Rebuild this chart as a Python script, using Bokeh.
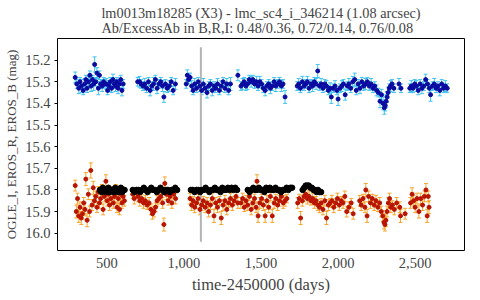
from bokeh.plotting import figure
from bokeh.models import ColumnDataSource, Whisker, TeeHead, FixedTicker, NumeralTickFormatter
from bokeh.embed import file_html
from bokeh.resources import INLINE

# ---------------- data ----------------
title_line1 = "lm0013m18285 (X3) - lmc_sc4_i_346214 (1.08 arcsec)"
title_line2 = "Ab/ExcessAb in B,R,I: 0.48/0.36, 0.72/0.14, 0.76/0.08"
x_label = "time-2450000 (days)"
y_label = "OGLE_I, EROS_R, EROS_B (mag)"
x_ticks = [500, 1000, 1500, 2000, 2500]
y_ticks = [15.2, 15.3, 15.4, 15.5, 15.6, 15.7, 15.8, 15.9, 16.0]
event_t = 1110
event_mag_range = [15.14, 16.04]

# EROS_B (blue)
eros_b_t = [295, 305, 318, 326, 335, 347, 356, 364, 372, 381, 390, 398, 407, 415, 421, 428, 436, 445, 452, 460,
            470, 479, 488, 497, 505, 514, 522, 531, 540, 548, 556, 565, 573, 582, 590, 598, 606,
            700, 712, 722, 735, 746, 758, 770, 781, 792, 803, 815, 826, 838, 850, 861, 870, 880, 892, 905, 918, 930, 945,
            1015, 1022, 1030, 1040, 1050, 1060, 1070, 1082, 1093, 1104, 1115, 1126, 1138, 1150, 1160, 1172, 1184, 1195,
            1206, 1218, 1230, 1242, 1254, 1266, 1278, 1290, 1302, 1350,
            1370, 1380, 1391, 1402, 1413, 1424, 1436, 1447, 1458, 1470, 1481, 1492, 1504, 1515, 1527, 1538, 1550, 1561,
            1573, 1585, 1596, 1608, 1620, 1632, 1643, 1656,
            1735, 1745, 1756, 1768, 1779, 1790, 1801, 1812, 1824, 1835, 1846, 1857, 1868, 1879, 1890, 1902, 1914, 1925,
            1937, 1948, 1956, 1968, 1980, 1992, 2000, 2012, 2024, 2035, 2046,
            2060, 2070, 2082, 2095, 2108, 2118, 2130, 2142, 2154, 2166, 2178, 2190, 2202, 2214, 2226, 2238, 2250, 2262,
            2272, 2282, 2292, 2300, 2306, 2312, 2318, 2324, 2332, 2340, 2350, 2362, 2395, 2408,
            2465, 2475, 2486, 2497, 2508, 2520, 2532, 2544, 2556, 2568, 2580, 2592, 2600, 2612, 2624, 2636, 2648, 2660,
            2672, 2684, 2696, 2708]
eros_b_mag = [15.28, 15.31, 15.33, 15.30, 15.32, 15.34, 15.31, 15.29, 15.33, 15.30, 15.27, 15.32, 15.29, 15.31, 15.22,
              15.30, 15.26, 15.33, 15.27, 15.31, 15.32, 15.30, 15.31, 15.31, 15.34, 15.32, 15.30, 15.33, 15.29, 15.31,
              15.32, 15.30, 15.33, 15.31, 15.29, 15.34, 15.31,
              15.30, 15.30, 15.31, 15.32, 15.31, 15.33, 15.30, 15.34, 15.32, 15.31, 15.29, 15.33, 15.31, 15.30, 15.32,
              15.37, 15.31, 15.33, 15.32, 15.30, 15.34, 15.31,
              15.31, 15.27, 15.29, 15.28, 15.32, 15.34, 15.31, 15.33, 15.30, 15.32, 15.34, 15.31, 15.33, 15.35, 15.32,
              15.31, 15.34, 15.32, 15.33, 15.31, 15.34, 15.32, 15.30, 15.33, 15.31, 15.34, 15.31, 15.27,
              15.32, 15.31, 15.30, 15.32, 15.31, 15.29, 15.30, 15.29, 15.31, 15.30, 15.32, 15.30, 15.31, 15.33, 15.34,
              15.32, 15.31, 15.33, 15.32, 15.30, 15.32, 15.31, 15.30, 15.32, 15.31, 15.37,
              15.32, 15.31, 15.33, 15.30, 15.32, 15.31, 15.30, 15.33, 15.31, 15.32, 15.30, 15.31, 15.25, 15.32, 15.31,
              15.33, 15.31, 15.32, 15.34, 15.33, 15.37, 15.33, 15.32, 15.34, 15.38, 15.33, 15.32, 15.31, 15.36,
              15.32, 15.31, 15.33, 15.30, 15.29, 15.34, 15.31, 15.33, 15.30, 15.32, 15.31, 15.30, 15.32, 15.31, 15.33,
              15.32, 15.34, 15.35, 15.39, 15.36, 15.40, 15.42, 15.41, 15.39, 15.37, 15.35, 15.33, 15.32, 15.31, 15.33,
              15.31, 15.33,
              15.33, 15.32, 15.33, 15.31, 15.32, 15.34, 15.31, 15.33, 15.32, 15.29, 15.31, 15.33, 15.36, 15.32, 15.31,
              15.33, 15.32, 15.34, 15.31, 15.33, 15.32, 15.33]
eros_b_err = [0.025, 0.02, 0.025, 0.02, 0.03, 0.02, 0.025, 0.02, 0.02, 0.025, 0.02, 0.025, 0.02, 0.03, 0.035, 0.02,
              0.025, 0.03, 0.02, 0.02, 0.025, 0.02, 0.02, 0.025, 0.02, 0.025, 0.02, 0.02, 0.025, 0.02, 0.025, 0.02,
              0.025, 0.02, 0.02, 0.025, 0.02,
              0.02, 0.025, 0.02, 0.02, 0.025, 0.02, 0.02, 0.025, 0.02, 0.03, 0.02, 0.025, 0.02, 0.02, 0.025, 0.025,
              0.02, 0.02, 0.025, 0.02, 0.02, 0.025,
              0.02, 0.025, 0.02, 0.02, 0.025, 0.02, 0.025, 0.02, 0.02, 0.025, 0.02, 0.025, 0.02, 0.025, 0.02, 0.02,
              0.025, 0.02, 0.02, 0.025, 0.02, 0.025, 0.02, 0.02, 0.025, 0.02, 0.03, 0.025,
              0.02, 0.025, 0.02, 0.02, 0.025, 0.02, 0.025, 0.02, 0.02, 0.025, 0.02, 0.025, 0.02, 0.02, 0.025, 0.02,
              0.02, 0.025, 0.02, 0.02, 0.025, 0.02, 0.02, 0.025, 0.02, 0.03,
              0.02, 0.025, 0.02, 0.025, 0.02, 0.02, 0.025, 0.02, 0.02, 0.025, 0.02, 0.025, 0.03, 0.02, 0.025, 0.02,
              0.02, 0.025, 0.02, 0.025, 0.03, 0.02, 0.025, 0.02, 0.03, 0.02, 0.025, 0.02, 0.025,
              0.02, 0.025, 0.02, 0.025, 0.03, 0.02, 0.02, 0.025, 0.02, 0.02, 0.025, 0.02, 0.02, 0.025, 0.02, 0.02,
              0.025, 0.02, 0.03, 0.025, 0.03, 0.03, 0.025, 0.03, 0.025, 0.025, 0.02, 0.025, 0.02, 0.02, 0.025, 0.02,
              0.02, 0.025, 0.02, 0.02, 0.025, 0.02, 0.02, 0.025, 0.02, 0.025, 0.02, 0.02, 0.03, 0.02, 0.025, 0.02,
              0.02, 0.025, 0.02, 0.02, 0.025, 0.02]

# EROS_R (red)
eros_r_t = [295, 302, 310, 318, 326, 334, 342, 350, 358, 364, 372, 380, 388, 396, 404, 412, 420, 428, 436, 444,
            452, 460, 468, 476, 484, 494, 502, 510, 518, 526, 534, 542, 550, 558, 566, 574, 582, 590, 598, 606, 614,
            668, 678, 690, 702, 714, 726, 738, 750, 762, 774, 786, 796, 806, 816, 826, 838, 850, 862, 870, 876,
            886, 898, 910, 922, 934, 946,
            1040, 1050, 1060, 1070, 1082, 1093, 1104, 1115, 1126, 1138, 1150, 1160, 1172, 1184, 1195, 1206, 1218,
            1230, 1242, 1254, 1266, 1278, 1290, 1302, 1314, 1326, 1338, 1350,
            1370, 1381, 1392, 1403, 1414, 1425, 1436, 1447, 1458, 1468, 1474, 1481, 1492, 1504, 1515, 1527, 1538,
            1550, 1561, 1573, 1585, 1596, 1608, 1620, 1632, 1644, 1656, 1668,
            1738, 1748, 1757, 1768, 1779, 1790, 1801, 1812, 1824, 1835, 1846, 1857, 1868, 1879, 1890, 1902, 1914,
            1925, 1937, 1948, 1960, 1972, 1984, 1996, 2008, 2020, 2032, 2044, 2056, 2070, 2085, 2098,
            2140, 2150, 2162, 2174, 2180, 2188, 2198, 2210, 2222, 2234, 2246, 2258, 2270, 2280, 2290, 2298, 2304,
            2310, 2318, 2326, 2334, 2342, 2352, 2365, 2380, 2400, 2405, 2435,
            2470, 2480, 2490, 2500, 2512, 2524, 2536, 2548, 2560, 2570, 2578, 2585, 2590]
eros_r_mag = [15.78, 15.90, 15.84, 15.92, 15.88, 15.93, 15.91, 15.86, 15.89, 15.75, 15.94, 15.82, 15.90, 15.71, 15.87,
              15.79, 15.85, 15.83, 15.88, 15.81, 15.86, 15.84, 15.80, 15.89, 15.83, 15.76, 15.85, 15.82, 15.87, 15.84,
              15.81, 15.86, 15.83, 15.80, 15.88, 15.84, 15.89, 15.82, 15.86, 15.83, 15.85,
              15.82, 15.84, 15.81, 15.83, 15.85, 15.84, 15.86, 15.85, 15.87, 15.86, 15.89, 15.91, 15.90, 15.88, 15.85,
              15.84, 15.83, 15.86, 15.96, 15.77, 15.82, 15.85, 15.83, 15.86, 15.82, 15.84,
              15.84, 15.87, 15.85, 15.88, 15.86, 15.84, 15.89, 15.87, 15.85, 15.88, 15.86, 15.90, 15.87, 15.84, 15.92,
              15.86, 15.88, 15.85, 15.93, 15.87, 15.85, 15.89, 15.86, 15.84, 15.87, 15.85, 15.83, 15.86,
              15.86, 15.84, 15.88, 15.85, 15.87, 15.83, 15.89, 15.86, 15.84, 15.88, 15.76, 15.92, 15.86, 15.84, 15.87,
              15.92, 15.85, 15.88, 15.83, 15.92, 15.86, 15.84, 15.87, 15.85, 15.83, 15.86, 15.85, 15.84,
              15.86, 15.84, 15.93, 15.85, 15.83, 15.82, 15.84, 15.83, 15.85, 15.84, 15.86, 15.85, 15.87, 15.88, 15.86,
              15.89, 15.85, 15.93, 15.87, 15.86, 15.85, 15.88, 15.86, 15.84, 15.87, 15.85, 15.86, 15.83, 15.90, 15.88,
              15.86, 15.91,
              15.85, 15.87, 15.84, 15.88, 15.80, 15.92, 15.83, 15.86, 15.84, 15.87, 15.85, 15.88, 15.86, 15.90, 15.92,
              15.95, 15.96, 15.94, 15.90, 15.86, 15.84, 15.88, 15.87, 15.89, 15.86, 15.88, 15.92, 15.91,
              15.86, 15.82, 15.85, 15.88, 15.84, 15.90, 15.84, 15.87, 15.83, 15.80, 15.92, 15.83, 15.88]
eros_r_err = [0.025, 0.03, 0.025, 0.03, 0.025, 0.03, 0.025, 0.025, 0.03, 0.03, 0.03, 0.025, 0.025, 0.035, 0.025, 0.03,
              0.025, 0.025, 0.025, 0.025, 0.025, 0.025, 0.025, 0.025, 0.025, 0.03, 0.025, 0.025, 0.025, 0.025, 0.025,
              0.025, 0.03, 0.025, 0.025, 0.025, 0.025, 0.03, 0.025, 0.025, 0.025,
              0.02, 0.025, 0.02, 0.025, 0.025, 0.02, 0.025, 0.025, 0.02, 0.025, 0.025, 0.025, 0.025, 0.02, 0.025,
              0.025, 0.02, 0.025, 0.03, 0.03, 0.025, 0.02, 0.025, 0.025, 0.02, 0.025,
              0.025, 0.025, 0.02, 0.025, 0.025, 0.02, 0.025, 0.025, 0.02, 0.025, 0.025, 0.025, 0.02, 0.025, 0.03,
              0.025, 0.025, 0.02, 0.03, 0.025, 0.025, 0.025, 0.02, 0.025, 0.025, 0.02, 0.025, 0.025,
              0.025, 0.025, 0.02, 0.025, 0.025, 0.02, 0.025, 0.025, 0.02, 0.025, 0.03, 0.03, 0.025, 0.02, 0.025,
              0.03, 0.025, 0.025, 0.02, 0.03, 0.025, 0.02, 0.025, 0.025, 0.02, 0.025, 0.025, 0.02,
              0.025, 0.02, 0.03, 0.025, 0.025, 0.02, 0.025, 0.025, 0.02, 0.025, 0.025, 0.02, 0.025, 0.025, 0.02,
              0.025, 0.025, 0.03, 0.025, 0.02, 0.025, 0.025, 0.02, 0.025, 0.025, 0.02, 0.025, 0.025, 0.025, 0.025,
              0.02, 0.025,
              0.025, 0.025, 0.02, 0.025, 0.03, 0.03, 0.025, 0.025, 0.02, 0.025, 0.025, 0.02, 0.025, 0.025, 0.025,
              0.03, 0.03, 0.03, 0.025, 0.025, 0.025, 0.025, 0.02, 0.025, 0.025, 0.025, 0.03, 0.025,
              0.025, 0.03, 0.025, 0.025, 0.025, 0.03, 0.025, 0.025, 0.025, 0.03, 0.03, 0.025, 0.03]

# OGLE_I (black)
ogle_i_t = [455, 465, 474, 483, 492, 501, 510, 519, 528, 537, 546, 555, 564, 573, 582, 591, 600, 609, 615,
            668, 680, 692, 704, 716, 728, 740, 752, 764, 776, 788, 800, 812, 824, 836, 848, 860, 872, 884, 896,
            908, 920, 932, 944, 956,
            1045, 1057, 1069, 1081, 1093, 1105, 1117, 1129, 1141, 1153, 1165, 1177, 1189, 1201, 1213, 1225, 1237,
            1249, 1261, 1273, 1285, 1297, 1309, 1321, 1333, 1345,
            1414, 1426, 1438, 1450, 1462, 1474, 1486, 1498, 1510, 1522, 1534, 1546, 1558, 1570, 1582, 1594, 1606,
            1618, 1630, 1642, 1654, 1666, 1678, 1690, 1702,
            1770, 1780, 1790, 1800, 1810, 1820, 1830, 1840, 1850, 1860, 1870, 1880, 1890]
ogle_i_mag = [15.80, 15.81, 15.79, 15.80, 15.81, 15.80, 15.79, 15.81, 15.80, 15.80, 15.81, 15.79, 15.80, 15.81, 15.80,
              15.79, 15.81, 15.80, 15.80,
              15.80, 15.81, 15.80, 15.80, 15.81, 15.80, 15.79, 15.80, 15.81, 15.80, 15.79, 15.80, 15.80, 15.81, 15.80,
              15.79, 15.80, 15.81, 15.80, 15.80, 15.81, 15.80, 15.80, 15.79, 15.80,
              15.80, 15.80, 15.81, 15.80, 15.80, 15.81, 15.80, 15.80, 15.79, 15.80, 15.81, 15.80, 15.80, 15.79, 15.80,
              15.80, 15.81, 15.79, 15.80, 15.80, 15.79, 15.80, 15.79, 15.80, 15.79, 15.80,
              15.80, 15.81, 15.80, 15.79, 15.80, 15.80, 15.79, 15.80, 15.80, 15.81, 15.79, 15.80, 15.79, 15.80, 15.80,
              15.79, 15.80, 15.80, 15.81, 15.80, 15.80, 15.79, 15.80, 15.79, 15.79,
              15.80, 15.79, 15.78, 15.78, 15.78, 15.79, 15.79, 15.80, 15.80, 15.81, 15.80, 15.81, 15.81]

# ---------------- styling ----------------
FONT = "Liberation Serif"
B_PT, B_ERR = "#0a0aa0", "#3ec3f0"
R_PT, R_ERR = "#b81400", "#f7a428"


def err_source(t, m, e):
    n = min(len(t), len(m), len(e))
    t, m, e = t[:n], m[:n], e[:n]
    return ColumnDataSource(dict(t=t, m=m, lo=[a - b for a, b in zip(m, e)], hi=[a + b for a, b in zip(m, e)]))


p = figure(frame_width=407, frame_height=212, x_range=(180, 2820), y_range=(16.08, 15.1),
           output_backend="svg", toolbar_location=None,
           min_border_left=57, min_border_right=2, min_border_top=0, min_border_bottom=0)
p.background_fill_color = "white"
p.border_fill_color = "white"
p.outline_line_color = "black"
p.outline_line_width = 1
p.xgrid.visible = False
p.ygrid.visible = False

p.title.text = title_line1 + "\n" + title_line2
p.title.align = "center"
p.title.text_font = FONT
p.title.text_font_size = "14.3px"
p.title.text_font_style = "normal"
p.title.text_line_height = 0.93
p.title.standoff = 5

for ax in (p.xaxis[0], p.yaxis[0]):
    ax.axis_line_color = None
    ax.minor_tick_line_color = None
    ax.minor_tick_out = 0
    ax.minor_tick_in = 0
    ax.major_tick_in = 0
    ax.major_label_text_font = FONT
    ax.major_label_text_font_size = "14.5px"
    ax.axis_label_text_font = FONT
    ax.axis_label_text_font_style = "normal"

p.xaxis.ticker = FixedTicker(ticks=x_ticks)
p.xaxis.formatter = NumeralTickFormatter(format="0,0")
p.xaxis.axis_label = x_label
p.xaxis.axis_label_text_font_size = "16.5px"
p.xaxis.major_tick_line_color = None
p.xaxis.major_tick_out = 0
p.xaxis.major_label_standoff = 7
p.xaxis.axis_label_standoff = 4

p.yaxis.ticker = FixedTicker(ticks=y_ticks)
p.yaxis.formatter = NumeralTickFormatter(format="0.0")
p.yaxis.axis_label = y_label
p.yaxis.axis_label_text_font_size = "13px"
p.yaxis.major_tick_line_color = "black"
p.yaxis.major_tick_out = 3
p.yaxis.major_label_standoff = 4
p.yaxis.axis_label_standoff = 3

# event marker line
p.segment(x0=[event_t], x1=[event_t], y0=[event_mag_range[0]], y1=[event_mag_range[1]],
          line_color="#b4b4b4", line_width=2)

# EROS_R
rs = err_source(eros_r_t, eros_r_mag, eros_r_err)
p.add_layout(Whisker(source=rs, base="t", lower="lo", upper="hi", line_color=R_ERR, line_width=1,
                     upper_head=TeeHead(size=4, line_color=R_ERR, line_width=1),
                     lower_head=TeeHead(size=4, line_color=R_ERR, line_width=1)))
p.scatter("t", "m", source=rs, size=4, fill_color=R_PT, line_color=R_PT)

# EROS_B
bs = err_source(eros_b_t, eros_b_mag, eros_b_err)
p.add_layout(Whisker(source=bs, base="t", lower="lo", upper="hi", line_color=B_ERR, line_width=1,
                     upper_head=TeeHead(size=4, line_color=B_ERR, line_width=1),
                     lower_head=TeeHead(size=4, line_color=B_ERR, line_width=1)))
p.scatter("t", "m", source=bs, size=4, fill_color=B_PT, line_color=B_PT)

# OGLE_I
p.scatter(ogle_i_t, ogle_i_mag, size=5.5, fill_color="black", line_color="black")

open("out.html", "w").write(file_html(p, INLINE))
